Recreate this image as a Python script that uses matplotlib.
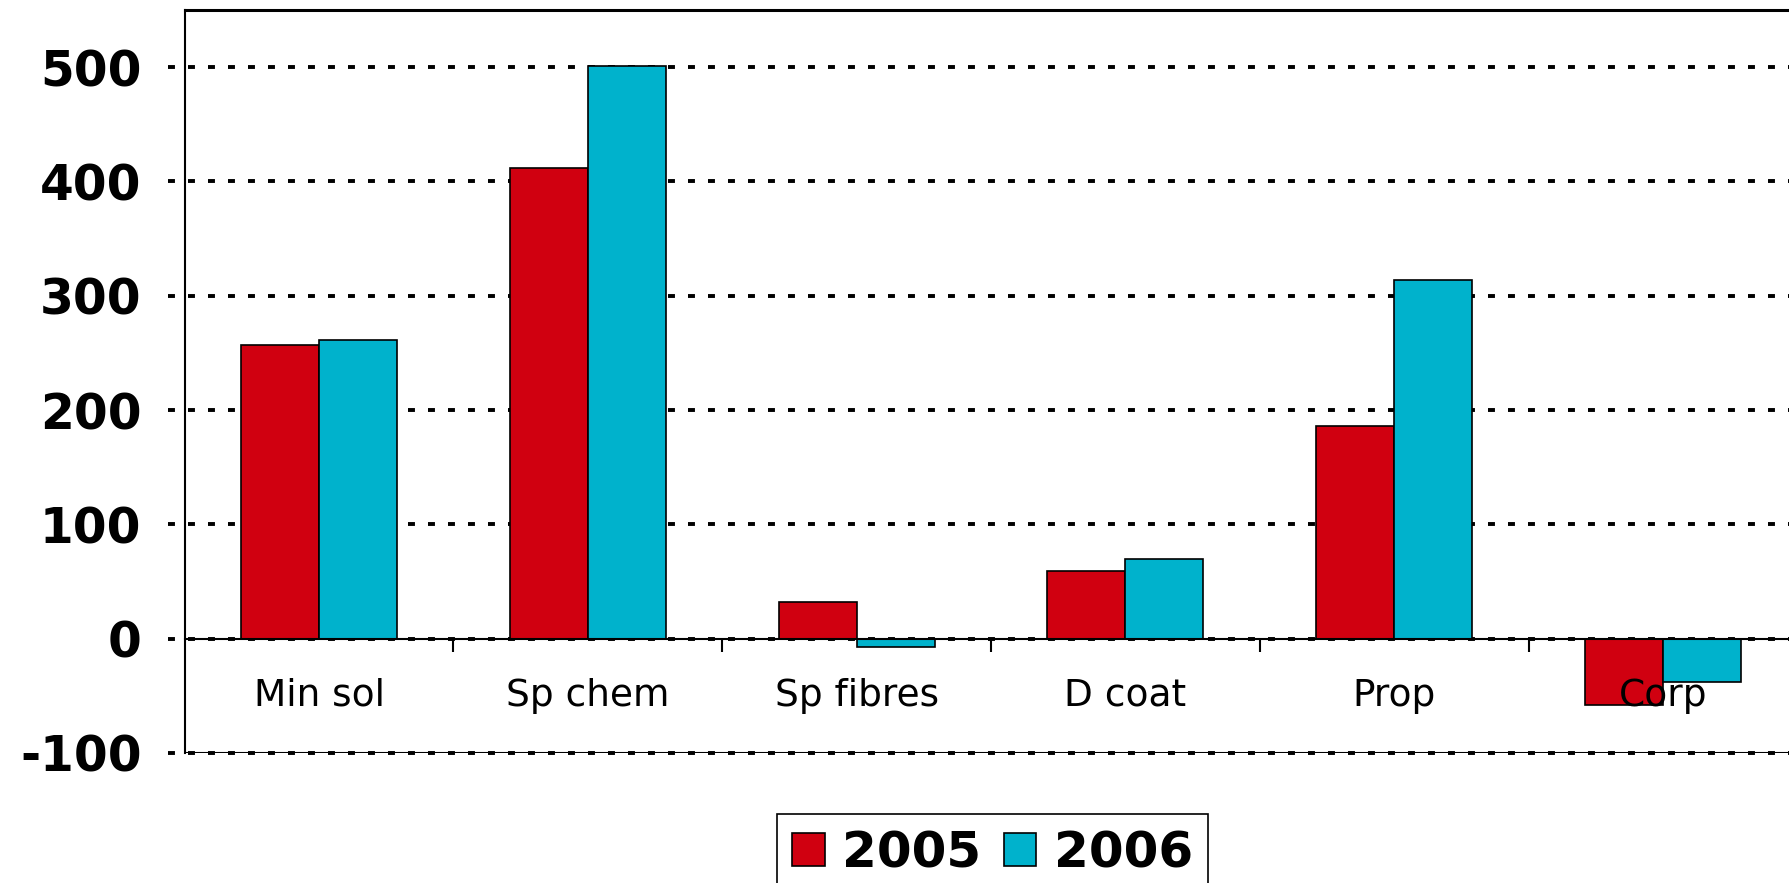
import numpy as np
import matplotlib
matplotlib.use('Agg')
import matplotlib.pyplot as plt
from matplotlib.patches import Patch

categories = ['Min sol', 'Sp chem', 'Sp fibres', 'D coat', 'Prop', 'Corp']
years = ['2005', '2006']
vals_2005 = [257, 412, 32, 59, 186, -58]
vals_2006 = [261, 501, -7, 70, 314, -38]
yticks = [-100, 0, 100, 200, 300, 400, 500]

red = '#D00010'
cyan = '#00B2CC'

plt.rcParams['font.family'] = 'DejaVu Sans'
plt.rcParams['lines.scale_dashes'] = False

fig = plt.figure(figsize=(17.89, 8.83), dpi=100)
ax = fig.add_axes([184.6 / 1789, 1 - 753 / 883, (1797.4 - 184.6) / 1789, (753 - 10) / 883])
ax.set_axisbelow(False)  # category labels sit over the Corp bars

x = np.arange(len(categories))
w = 0.29
ax.bar(x - w / 2, vals_2005, w, color=red, edgecolor='black', linewidth=1.2, zorder=1)
ax.bar(x + w / 2, vals_2006, w, color=cyan, edgecolor='black', linewidth=1.2, zorder=1)

ax.set_xlim(-0.5, len(categories) - 0.5)
ax.set_ylim(-100, 550)

# dotted gridlines, running a bit past the left spine
for v in yticks:
    ax.plot([-0.0105, 1], [v, v], transform=ax.get_yaxis_transform(), clip_on=False,
            color='black', lw=2.8, dashes=(5, 9.4), zorder=0.5)
ax.axhline(-100, color='black', lw=1.5, zorder=0.8)

ax.set_yticks(yticks)
ax.set_yticklabels([str(v) for v in yticks], fontsize=35, fontweight='bold')
ax.tick_params(axis='y', length=0, pad=31)

ax.spines['bottom'].set_position(('data', 0))
ax.spines['bottom'].set_linewidth(1.5)
ax.spines['left'].set_linewidth(1.5)
ax.spines['top'].set_linewidth(2.2)
ax.spines['right'].set_visible(False)
ax.set_xticks(x)
ax.set_xticklabels(categories, fontsize=27)
ax.set_xticks(np.arange(len(categories) - 1) + 0.5, minor=True)
ax.tick_params(axis='x', which='major', length=0, pad=28)
ax.tick_params(axis='x', which='minor', length=9, width=1.5, direction='out')

handles = [Patch(facecolor=red, edgecolor='black', lw=1.2),
           Patch(facecolor=cyan, edgecolor='black', lw=1.2)]
leg = fig.legend(handles, years, loc='upper left', bbox_to_anchor=(777 / 1789, 1 - 814 / 883),
                 ncol=2, fancybox=False, edgecolor='black', framealpha=1,
                 prop={'size': 36, 'weight': 'bold'}, handlelength=0.65, handleheight=0.65,
                 handletextpad=0.35, columnspacing=0.45, borderpad=0.3, borderaxespad=0)
leg.get_frame().set_linewidth(1.2)

fig.savefig('out.png', dpi=100)
